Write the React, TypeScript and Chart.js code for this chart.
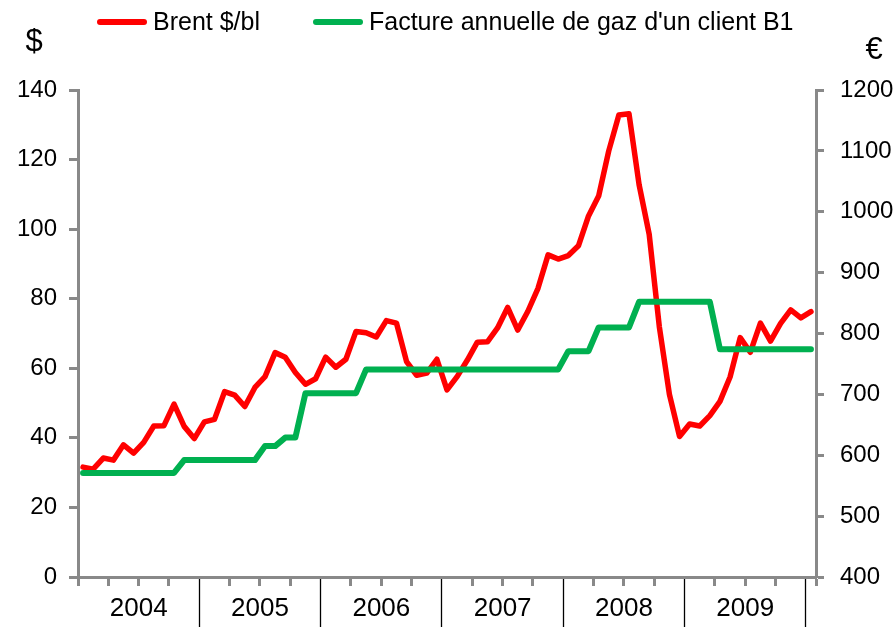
import React, { useEffect, useRef } from 'react';
import { Chart, registerables } from 'chart.js';

Chart.register(...registerables);

// ---- Data ----
const months: string[] = [
  '2004-01','2004-02','2004-03','2004-04','2004-05','2004-06','2004-07','2004-08','2004-09','2004-10','2004-11','2004-12',
  '2005-01','2005-02','2005-03','2005-04','2005-05','2005-06','2005-07','2005-08','2005-09','2005-10','2005-11','2005-12',
  '2006-01','2006-02','2006-03','2006-04','2006-05','2006-06','2006-07','2006-08','2006-09','2006-10','2006-11','2006-12',
  '2007-01','2007-02','2007-03','2007-04','2007-05','2007-06','2007-07','2007-08','2007-09','2007-10','2007-11','2007-12',
  '2008-01','2008-02','2008-03','2008-04','2008-05','2008-06','2008-07','2008-08','2008-09','2008-10','2008-11','2008-12',
  '2009-01','2009-02','2009-03','2009-04','2009-05','2009-06','2009-07','2009-08','2009-09','2009-10','2009-11','2009-12',
  '2010-01',
];

const yearLabels: string[] = ['2004', '2005', '2006', '2007', '2008', '2009'];

// Brent, $/bl (left axis)
const brent: number[] = [
  31.6, 31.0, 34.2, 33.6, 38.0, 35.6, 38.7, 43.4, 43.5, 49.7, 43.3, 39.8,
  44.6, 45.3, 53.3, 52.3, 49.0, 54.5, 57.6, 64.5, 63.2, 58.8, 55.4, 57.0,
  63.2, 60.3, 62.6, 70.6, 70.2, 69.0, 73.7, 73.0, 61.9, 58.0, 58.6, 62.6,
  53.8, 57.6, 62.3, 67.5, 67.6, 71.6, 77.5, 71.0, 76.4, 83.0, 92.6, 91.4,
  92.4, 95.2, 103.8, 109.5, 122.5, 132.8, 133.2, 112.8, 98.5, 72.0, 52.5, 40.4,
  44.0, 43.4, 46.4, 50.5, 57.5, 68.8, 64.6, 73.0, 67.8, 72.9, 76.8, 74.5,
  76.3,
];

// Facture annuelle de gaz d'un client B1, € (right axis)
const gasBill: number[] = [
  571, 571, 571, 571, 571, 571, 571, 571, 571, 571, 592, 592,
  592, 592, 592, 592, 592, 592, 615, 615, 629, 629, 702, 702,
  702, 702, 702, 702, 741, 741, 741, 741, 741, 741, 741, 741,
  741, 741, 741, 741, 741, 741, 741, 741, 741, 741, 741, 741,
  771, 771, 771, 810, 810, 810, 810, 852, 852, 852, 852, 852,
  852, 852, 852, 774, 774, 774, 774, 774, 774, 774, 774, 774,
  774,
];

const seriesNames: string[] = ['Brent $/bl', "Facture annuelle de gaz d'un client B1"];
const unitLabels: string[] = ['$', '€'];

const leftMin = 0, leftMax = 140, leftStep = 20;
const rightMin = 400, rightMax = 1200, rightStep = 100;

const RED = '#FF0000';
const GREEN = '#00B050';
const GRAY = '#898989';
const FONT = '"Liberation Sans", Arial, sans-serif';

// legend item start positions (layout)
const legendX: number[] = [97, 313];

const topLegend = {
  id: 'topLegend',
  afterDraw(chart: any) {
    const ctx = chart.ctx as CanvasRenderingContext2D;
    ctx.save();
    ctx.font = `25px ${FONT}`;
    const lineW = 50, gapText = 6;
    const y = 22;
    chart.data.datasets.forEach((ds: any, i: number) => {
      const x = legendX[i];
      ctx.strokeStyle = ds.borderColor;
      ctx.lineWidth = 6;
      ctx.lineCap = 'round';
      ctx.beginPath();
      ctx.moveTo(x + 3, y);
      ctx.lineTo(x + lineW - 3, y);
      ctx.stroke();
      ctx.fillStyle = '#000';
      ctx.textBaseline = 'middle';
      ctx.textAlign = 'left';
      ctx.fillText(ds.label, x + lineW + gapText, y + 1);
    });
    ctx.font = `31px ${FONT}`;
    ctx.textAlign = 'center';
    ctx.textBaseline = 'middle';
    ctx.fillStyle = '#000';
    ctx.fillText(unitLabels[0], 34, 42);
    ctx.fillText(unitLabels[1], 874, 50);
    ctx.restore();
  },
};

function tickKind(ctx: any): 'sep' | 'minor' | 'none' {
  const idx = ctx.index;
  if (idx === undefined) return 'minor';
  if (idx > 0 && idx % 12 === 0) return 'sep';
  if (idx % 3 === 0) return 'minor';
  return 'none';
}

export default function App() {
  const ref = useRef<HTMLCanvasElement | null>(null);

  useEffect(() => {
    if (!ref.current) return;
    const chart = new Chart(ref.current, {
      type: 'line',
      data: {
        labels: months,
        datasets: [
          {
            label: seriesNames[0],
            data: brent,
            borderColor: RED,
            backgroundColor: RED,
            borderWidth: 5.5,
            pointRadius: 0,
            tension: 0,
            borderJoinStyle: 'round',
            borderCapStyle: 'round',
            yAxisID: 'y',
            order: 2,
          },
          {
            label: seriesNames[1],
            data: gasBill,
            borderColor: GREEN,
            backgroundColor: GREEN,
            borderWidth: 6,
            pointRadius: 0,
            tension: 0,
            borderJoinStyle: 'round',
            borderCapStyle: 'round',
            yAxisID: 'y1',
            order: 1,
          },
        ],
      },
      options: {
        responsive: false,
        animation: false,
        layout: { padding: { top: 90, left: 0, right: 0, bottom: 0 } },
        plugins: {
          legend: { display: false },
          tooltip: { enabled: false },
        },
        scales: {
          x: {
            type: 'category',
            offset: true,
            grid: {
              display: true,
              offset: true,
              drawOnChartArea: false,
              drawTicks: true,
              tickLength: 50,
              tickColor: (c: any) => {
                const k = tickKind(c);
                return k === 'sep' ? '#000' : k === 'minor' ? GRAY : 'rgba(0,0,0,0)';
              },
              tickWidth: (c: any) => (tickKind(c) === 'sep' ? 1.3 : 3),
              tickBorderDash: (c: any) => (tickKind(c) === 'sep' ? [] : [7, 200]),
            },
            border: { display: true, color: GRAY, width: 3 },
            ticks: {
              autoSkip: false,
              maxRotation: 0,
              minRotation: 0,
              padding: -34,
              labelOffset: -5,
              color: '#000',
              font: { family: FONT, size: 26 },
              callback: (_v: any, index: number) =>
                index % 12 === 6 && index < 72 ? yearLabels[Math.floor(index / 12)] : '',
            },
            afterFit: (s: any) => {
              s.height = 50;
            },
          },
          y: {
            type: 'linear',
            position: 'left',
            min: leftMin,
            max: leftMax,
            ticks: {
              stepSize: leftStep,
              padding: 12,
              color: '#000',
              font: { family: FONT, size: 24 },
              callback: (v: any) => String(v),
            },
            grid: { drawOnChartArea: false, drawTicks: true, tickLength: 9, tickColor: GRAY, tickWidth: 3 },
            border: { display: true, color: GRAY, width: 3 },
            afterFit: (s: any) => {
              s.width = 78;
            },
          },
          y1: {
            type: 'linear',
            position: 'right',
            min: rightMin,
            max: rightMax,
            ticks: {
              stepSize: rightStep,
              padding: 16,
              color: '#000',
              font: { family: FONT, size: 24 },
              callback: (v: any) => String(v),
            },
            grid: { drawOnChartArea: false, drawTicks: true, tickLength: 8, tickColor: GRAY, tickWidth: 3 },
            border: { display: true, color: GRAY, width: 3 },
            afterFit: (s: any) => {
              s.width = 80;
            },
          },
        },
      },
      plugins: [topLegend],
    } as any);
    return () => chart.destroy();
  }, []);

  return (
    <div style={{ position: 'fixed', left: 0, top: 0, width: 896, height: 627, background: '#fff' }}>
      <canvas ref={ref} width={896} height={627} style={{ width: 896, height: 627, display: 'block' }} />
    </div>
  );
}
